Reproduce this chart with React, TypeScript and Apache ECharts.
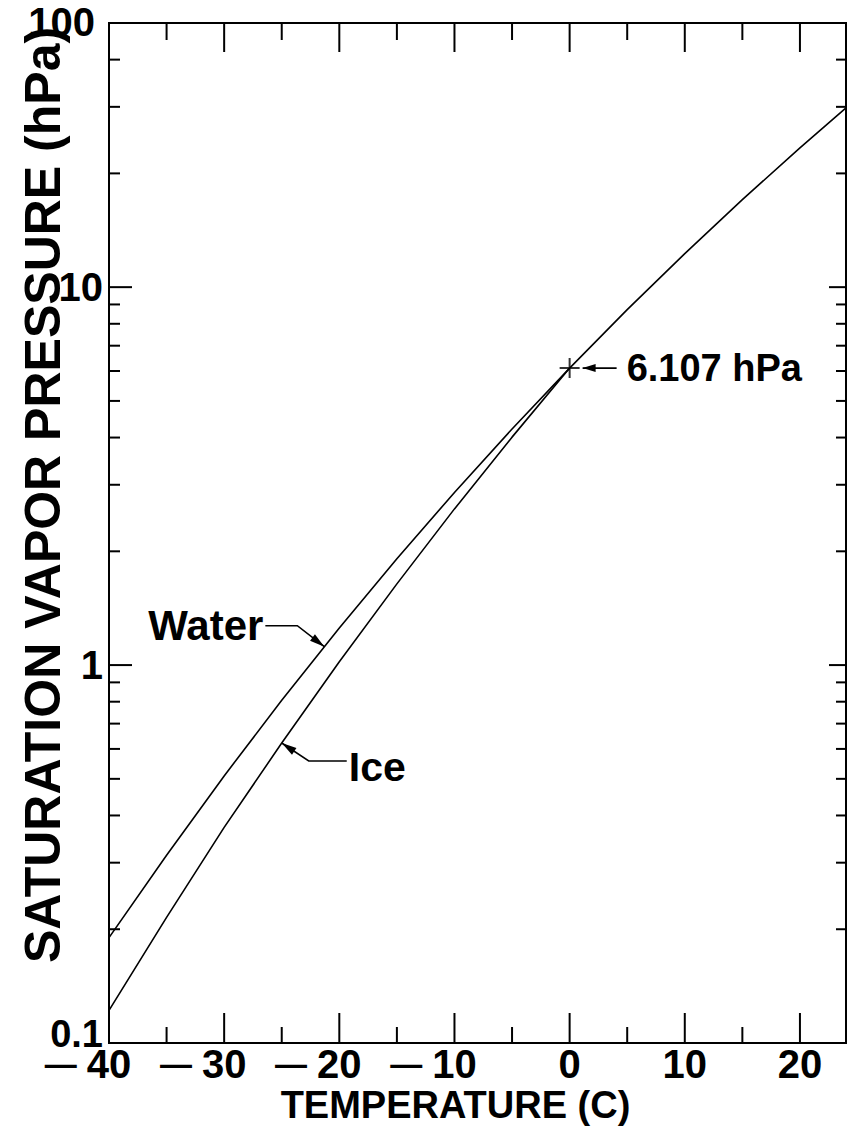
import React, { useEffect, useRef } from "react";
import * as echarts from "echarts";

// Saturation vapour pressure over water (incl. supercooled) and over ice, hPa
const waterTemps = [-40, -35, -30, -25, -20, -15, -10, -5, 0, 5, 10, 15, 20, 24];
const waterHPa = [0.19, 0.314, 0.509, 0.807, 1.254, 1.912, 2.863, 4.215, 6.107, 8.72, 12.27, 17.04, 23.37, 29.8];
const iceTemps = [-40, -35, -30, -25, -20, -15, -10, -5, 0];
const iceHPa = [0.122, 0.215, 0.372, 0.622, 1.02, 1.64, 2.59, 4.01, 6.107];

// Triple point marker
const triplePoint = [0, 6.107];
const triplePointLabel = "6.107 hPa";

// Axes
const X_MIN = -40;
const X_MAX = 24;
const Y_MIN = 0.1;
const Y_MAX = 50;
const xMajorTicks = [-40, -30, -20, -10, 0, 10, 20];
const xTickLabels = ["−40", "−30", "−20", "−10", "0", "10", "20"];
const xMinorTicks = [-35, -25, -15, -5, 5, 15];
const yMajorTicks = [0.1, 1, 10];
const yTickLabels = ["0.1", "1", "10"];
const yMinorTicks = [0.2, 0.3, 0.4, 0.5, 0.6, 0.7, 0.8, 0.9, 2, 3, 4, 5, 6, 7, 8, 9, 20, 30, 40];
const yTopLabel = "100";
const xTitle = "TEMPERATURE (C)";
const yTitle = "SATURATION VAPOR PRESSURE (hPa)";

const FONT = "'Liberation Sans', Arial, Helvetica, sans-serif";

// log-linear lookup on a curve, used to anchor the callout arrows on the drawn lines
function curveValue(ts: number[], vs: number[], t: number): number {
  for (let i = 0; i < ts.length - 1; i++) {
    if (t >= ts[i] && t <= ts[i + 1]) {
      const f = (t - ts[i]) / (ts[i + 1] - ts[i]);
      return Math.pow(10, Math.log10(vs[i]) + f * (Math.log10(vs[i + 1]) - Math.log10(vs[i])));
    }
  }
  return vs[vs.length - 1];
}

function arrowHead(tip: number[], from: number[], len = 15, half = 4) {
  const dx = tip[0] - from[0];
  const dy = tip[1] - from[1];
  const d = Math.hypot(dx, dy) || 1;
  const ux = dx / d, uy = dy / d;
  const bx = tip[0] - ux * len, by = tip[1] - uy * len;
  return {
    type: "polygon",
    shape: { points: [tip, [bx - uy * half, by + ux * half], [bx + uy * half, by - ux * half]] },
    style: { fill: "#000" },
    silent: true,
  };
}

export default function App() {
  const ref = useRef<HTMLDivElement>(null);

  useEffect(() => {
    if (!ref.current) return;
    const chart = echarts.init(ref.current, undefined, { renderer: "svg" });

    const xTickData = [
      ...xMajorTicks.map((v) => [v, 1, 1]),
      ...xMinorTicks.map((v) => [v, 1, 0]),
    ];
    const yTickData = [
      ...yMajorTicks.filter((v) => v > Y_MIN).map((v) => [0, v, 1]),
      ...yMinorTicks.map((v) => [0, v, 0]),
    ];
    const tickStyle = { stroke: "#000", lineWidth: 2 };

    chart.setOption({
      animation: false,
      backgroundColor: "#fff",
      grid: {
        left: 109,
        right: 2,
        top: 23,
        bottom: 101,
        outerBoundsMode: "none",
        containLabel: false,
        show: true,
        borderColor: "#000",
        borderWidth: 2,
        backgroundColor: "transparent",
      },
      xAxis: {
        type: "value",
        min: X_MIN,
        max: X_MAX,
        interval: 10,
        splitLine: { show: false },
        axisTick: { show: false },
        axisLine: { show: true, onZero: false, lineStyle: { color: "#000", width: 2 } },
        axisLabel: {
          showMaxLabel: false,
          margin: 1,
          color: "#000",
          fontFamily: FONT,
          fontWeight: "bold",
          fontSize: 40,
          formatter: (v: number) => {
            const i = xMajorTicks.indexOf(Math.round(v));
            if (i < 0) return "";
            const s = xTickLabels[i];
            if (s.startsWith("−")) return `{dash|—}{num|${s.slice(1)}}{pad|\u00a0}`;
            return `{num|${s}}`;
          },
          rich: {
            num: { fontFamily: FONT, fontWeight: "bold", fontSize: 40, color: "#000" },
            dash: { fontFamily: FONT, fontWeight: "bold", fontSize: 32, color: "#000", padding: [0, 10, 0, 0] },
            pad: { fontSize: 40, width: 42 },
          },
        },
      },
      yAxis: {
        type: "log",
        logBase: 10,
        min: Y_MIN,
        max: Y_MAX,
        splitLine: { show: false },
        axisTick: { show: false },
        axisLine: { show: true, onZero: false, lineStyle: { color: "#000", width: 2 } },
        axisLabel: {
          showMaxLabel: false,
          margin: 6,
          color: "#000",
          fontFamily: FONT,
          fontWeight: "bold",
          fontSize: 40,
          formatter: (v: number) => {
            const i = yMajorTicks.findIndex((t) => Math.abs(Math.log10(t) - Math.log10(v)) < 1e-6);
            if (i < 0) return "";
            return i === 0 ? `{low|${yTickLabels[i]}}` : yTickLabels[i];
          },
          rich: {
            low: { fontFamily: FONT, fontWeight: "bold", fontSize: 38, color: "#000", padding: [0, 0, 18, 0] },
          },
        },
      },
      series: [
        {
          name: "Water",
          type: "line",
          data: waterTemps.map((t, i) => [t, waterHPa[i]]),
          showSymbol: false,
          symbol: "none",
          lineStyle: { color: "#000", width: 1.6 },
          z: 3,
        },
        {
          name: "Ice",
          type: "line",
          data: iceTemps.map((t, i) => [t, iceHPa[i]]),
          showSymbol: false,
          symbol: "none",
          lineStyle: { color: "#000", width: 1.6 },
          z: 3,
        },
        {
          name: "Triple point",
          type: "scatter",
          data: [triplePoint],
          symbol: "path://M9,0H11V9H20V11H11V20H9V11H0V9H9Z",
          symbolSize: 20,
          itemStyle: { color: "#000" },
          z: 4,
        },
        {
          name: "x ticks",
          type: "custom",
          data: xTickData,
          encode: { x: 0, y: 1 },
          silent: true,
          renderItem: (_p: any, api: any) => {
            const v = api.value(0);
            const major = api.value(2) === 1;
            const b = api.coord([v, Y_MIN]);
            const t = api.coord([v, Y_MAX]);
            return {
              type: "group",
              children: [
                { type: "line", shape: { x1: b[0], y1: b[1], x2: b[0], y2: b[1] - (major ? 30 : 16) }, style: tickStyle },
                { type: "line", shape: { x1: t[0], y1: t[1], x2: t[0], y2: t[1] + (major ? 29 : 17) }, style: tickStyle },
              ],
            };
          },
        },
        {
          name: "y ticks",
          type: "custom",
          data: yTickData,
          encode: { x: 0, y: 1 },
          silent: true,
          renderItem: (_p: any, api: any) => {
            const v = api.value(1);
            const major = api.value(2) === 1;
            const l = api.coord([X_MIN, v]);
            const r = api.coord([X_MAX, v]);
            return {
              type: "group",
              children: [
                { type: "line", shape: { x1: l[0], y1: l[1], x2: l[0] + (major ? 23 : 11), y2: l[1] }, style: tickStyle },
                { type: "line", shape: { x1: r[0], y1: r[1], x2: r[0] - (major ? 17 : 10), y2: r[1] }, style: tickStyle },
              ],
            };
          },
        },
      ],
    });

    // callouts anchored on the curves
    const px = (p: number[]) => chart.convertToPixel({ gridIndex: 0 }, p) as number[];
    const corner = px([X_MIN, Y_MAX]);
    const farCorner = px([X_MAX, Y_MIN]);

    const wT = -21.3;
    const wTip = px([wT, curveValue(waterTemps, waterHPa, wT)]);
    const wKnee = [wTip[0] - 27, wTip[1] - 21];
    const wEnd = [wTip[0] - 59, wTip[1] - 21];

    const iT = -25;
    const iTip = px([iT, curveValue(iceTemps, iceHPa, iT)]);
    const iKnee = [iTip[0] + 27, iTip[1] + 18];
    const iEnd = [iTip[0] + 65, iTip[1] + 18];

    const tp = px(triplePoint);
    const tTip = [tp[0] + 13, tp[1]];
    const tTail = [tp[0] + 47, tp[1]];

    const lineStyle = { stroke: "#000", lineWidth: 1.6, fill: null };
    const textStyle = (extra: any) => ({
      fill: "#000",
      fontFamily: FONT,
      fontWeight: "bold",
      ...extra,
    });

    chart.setOption({
      graphic: [
        // axis titles
        {
          type: "text",
          x: (corner[0] + farCorner[0]) / 2 - 22,
          y: farCorner[1] + 62,
          style: textStyle({ text: xTitle, fontSize: 38, align: "center", verticalAlign: "middle" }),
          silent: true,
        },
        {
          type: "text",
          x: corner[0] - 66,
          y: (corner[1] + farCorner[1]) / 2 - 38,
          rotation: Math.PI / 2,
          style: textStyle({ text: yTitle, fontSize: 50, align: "center", verticalAlign: "middle" }),
          silent: true,
        },
        {
          type: "text",
          x: corner[0] - 14,
          y: corner[1] - 1,
          style: textStyle({ text: yTopLabel, fontSize: 40, align: "right", verticalAlign: "middle" }),
          silent: true,
        },
        { type: "polyline", shape: { points: [wEnd, wKnee, wTip] }, style: lineStyle, silent: true },
        arrowHead(wTip, wKnee),
        {
          type: "text",
          x: wEnd[0] - 2,
          y: wEnd[1],
          style: textStyle({ text: "Water", fontSize: 42, align: "right", verticalAlign: "middle" }),
          silent: true,
        },
        { type: "polyline", shape: { points: [iEnd, iKnee, iTip] }, style: lineStyle, silent: true },
        arrowHead(iTip, iKnee),
        {
          type: "text",
          x: iEnd[0] + 2,
          y: iEnd[1] + 6,
          style: textStyle({ text: "Ice", fontSize: 41, align: "left", verticalAlign: "middle" }),
          silent: true,
        },
        { type: "line", shape: { x1: tTail[0], y1: tTail[1], x2: tTip[0], y2: tTip[1] }, style: lineStyle, silent: true },
        arrowHead(tTip, tTail, 13, 4),
        {
          type: "text",
          x: tp[0] + 57,
          y: tp[1],
          style: textStyle({ text: triplePointLabel, fontSize: 38, align: "left", verticalAlign: "middle" }),
          silent: true,
        },
      ],
    });

    return () => chart.dispose();
  }, []);

  return (
    <div
      ref={ref}
      style={{ position: "absolute", left: 0, top: 0, width: 848, height: 1144, background: "#fff" }}
    />
  );
}
